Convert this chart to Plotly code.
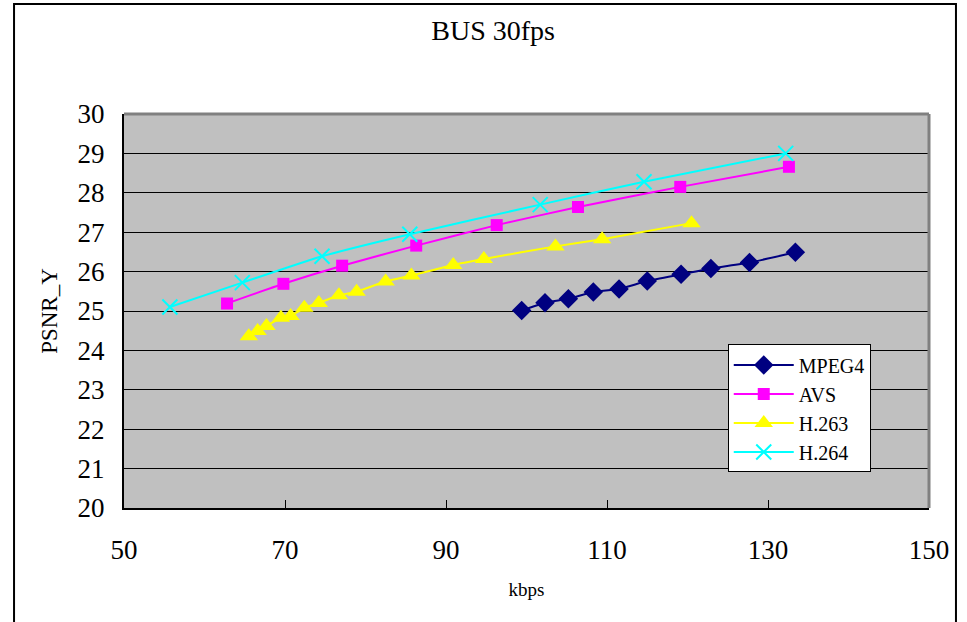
import plotly.graph_objects as go

# Rate-distortion data: bitrate (kbps) vs luma PSNR (dB)
mpeg4_kbps = [99.4, 102.3, 105.2, 108.3, 111.5, 115.0, 119.2, 122.9, 127.7, 133.4]
mpeg4_psnr = [25.01, 25.21, 25.31, 25.48, 25.56, 25.76, 25.93, 26.08, 26.23, 26.49]

avs_kbps = [62.8, 69.8, 77.1, 86.3, 96.3, 106.4, 119.1, 132.6]
avs_psnr = [25.19, 25.69, 26.15, 26.66, 27.18, 27.64, 28.15, 28.66]

h263_kbps = [65.5, 66.6, 67.7, 69.5, 70.7, 72.4, 74.2, 76.7, 78.9, 82.5,
             85.7, 90.9, 94.7, 103.6, 109.4, 120.5]
h263_psnr = [24.36, 24.49, 24.62, 24.83, 24.87, 25.08, 25.20, 25.40, 25.49, 25.75,
             25.90, 26.17, 26.32, 26.64, 26.82, 27.23]

h264_kbps = [55.7, 64.7, 74.6, 85.5, 101.7, 114.6, 132.2]
h264_psnr = [25.10, 25.72, 26.39, 26.95, 27.70, 28.28, 29.00]

x_ticks = [50, 70, 90, 110, 130, 150]
y_ticks = list(range(20, 31))

FONT = "Liberation Serif"

fig = go.Figure()

fig.add_trace(go.Scatter(
    x=mpeg4_kbps, y=mpeg4_psnr, name="MPEG4", mode="lines+markers",
    line=dict(color="#000080", width=2, shape="spline", smoothing=0.5),
    marker=dict(symbol="diamond", size=15, color="#000080"),
))
fig.add_trace(go.Scatter(
    x=avs_kbps, y=avs_psnr, name="AVS", mode="lines+markers",
    line=dict(color="#FF00FF", width=2, shape="spline", smoothing=0.5),
    marker=dict(symbol="square", size=12, color="#FF00FF"),
))
fig.add_trace(go.Scatter(
    x=h263_kbps, y=h263_psnr, name="H.263", mode="lines+markers",
    line=dict(color="#FFFF00", width=2, shape="spline", smoothing=0.5),
    marker=dict(symbol="triangle-up", size=16, color="#FFFF00"),
))
fig.add_trace(go.Scatter(
    x=h264_kbps, y=h264_psnr, name="H.264", mode="lines+markers",
    line=dict(color="#00FFFF", width=2, shape="spline", smoothing=0.5),
    marker=dict(symbol="x-thin", size=15, color="#00FFFF",
                line=dict(color="#00FFFF", width=2)),
))

fig.update_layout(
    width=967, height=622,
    margin=dict(l=124, r=38, t=114, b=114),
    paper_bgcolor="white",
    plot_bgcolor="#C0C0C0",
    font=dict(family=FONT, color="black"),
    title=dict(text="BUS 30fps", x=0.51, xanchor="center", y=0.952, yanchor="middle",
               font=dict(family=FONT, size=28, color="black")),
    showlegend=True,
    legend=dict(
        x=0.75, xanchor="left", y=0.415, yanchor="top",
        bgcolor="white", bordercolor="black", borderwidth=1,
        font=dict(family=FONT, size=20, color="black"),
        itemwidth=60, tracegroupgap=0,
    ),
    xaxis=dict(
        range=[50, 150], tickvals=x_ticks, ticktext=[str(v) for v in x_ticks],
        showgrid=False, zeroline=False,
        showline=True, linecolor="black", linewidth=2,
        ticks="inside", ticklen=8, tickcolor="black",
        tickfont=dict(family=FONT, size=27), ticklabelstandoff=17,
        title=dict(text="kbps", font=dict(family=FONT, size=19), standoff=18),
    ),
    yaxis=dict(
        range=[20, 30], tickvals=y_ticks, ticktext=[str(v) for v in y_ticks],
        showgrid=True, gridcolor="black", gridwidth=1, zeroline=False,
        showline=True, linecolor="black", linewidth=2,
        ticks="inside", ticklen=8, tickcolor="black",
        tickfont=dict(family=FONT, size=27), ticklabelstandoff=12,
        title=dict(text="PSNR_Y", font=dict(family=FONT, size=23), standoff=14),
    ),
    shapes=[
        # gray top and right edges of the plot area
        dict(type="line", xref="paper", yref="paper", x0=0, x1=1, y0=1, y1=1,
             line=dict(color="#808080", width=3)),
        dict(type="line", xref="paper", yref="paper", x0=1, x1=1, y0=0, y1=1,
             line=dict(color="#808080", width=3)),
        # chart frame
        dict(type="rect", xref="paper", yref="paper",
             x0=-0.1366, x1=1.0335, y0=-0.35, y1=1.279,
             line=dict(color="black", width=2), fillcolor="rgba(0,0,0,0)"),
    ],
)

fig.write_html("out.html")
